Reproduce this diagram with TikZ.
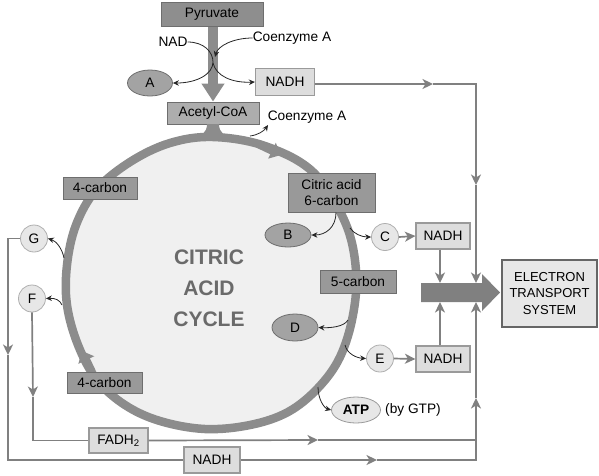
\documentclass[tikz,border=0pt]{standalone}
\usepackage{fontspec}
\setmainfont{Liberation Sans}
\usetikzlibrary{arrows.meta,shapes.geometric}
\definecolor{ringc}{HTML}{8C8C8C}
\definecolor{cycfill}{HTML}{F0F0F0}
\definecolor{darkf}{HTML}{999999}
\definecolor{darkd}{HTML}{6E6E6E}
\definecolor{lightf}{HTML}{DDDDDD}
\definecolor{lightd}{HTML}{9A9A9A}
\definecolor{flowc}{HTML}{808080}
\definecolor{pale}{HTML}{E7E7E7}
\definecolor{cyctext}{HTML}{6A6A6A}
\begin{document}
\begin{tikzpicture}[x=1pt,y=-1pt,
  font=\fontsize{13.7}{15}\selectfont,
  darkbox/.style={draw=darkd, fill=darkf, line width=1pt, inner sep=0pt, text=black},
  lightbox/.style={draw=lightd, fill=lightf, line width=1.2pt, inner sep=0pt, text=black},
  darkell/.style={ellipse, draw=darkd, fill=darkf!90!white, line width=0.8pt, inner sep=0pt},
  paleell/.style={ellipse, draw=lightd, fill=pale, line width=0.8pt, inner sep=0pt},
  palecirc/.style={circle, draw=lightd!80!white, fill=pale, line width=0.8pt, inner sep=0pt, minimum size=27pt},
  flow/.style={draw=flowc, line width=1.7pt},
  farr/.style={-{Stealth[length=10.5pt,width=10pt,inset=3pt]}},
  blk/.style={draw=black!85, line width=0.8pt, -{Stealth[length=6pt,width=5.5pt]}},
  plain/.style={inner sep=0pt, text=black}
]
\useasboundingbox (0,0) rectangle (599,475);

% ---- cycle ----
\draw[draw=ringc, fill=cycfill, line width=8.5pt] plot[smooth cycle, tension=0.6] coordinates {
 (213,137) (265,146) (313,172) (345,222) (356,270) (353,315) (340,357) (318,388)
 (288,412) (250,425) (205,429) (160,421) (125,405) (97,380) (78,345) (67,305)
 (67,265) (76,225) (96,190) (130,162) (170,143)};
\draw[draw=ringc, line width=8pt, -{Triangle[length=10pt,width=17pt]}] (258,144) -- (281,155);
\draw[draw=ringc, line width=8pt, -{Triangle[length=10pt,width=17pt]}] (92,372) -- (82,351);
\node[font=\bfseries\fontsize{21}{31}\selectfont, text=cyctext, align=center] (cyc) at (209,288) {CITRIC\\ACID\\CYCLE};

% ---- nodes ----
\node[darkbox, fill=darkf!93!black, minimum width=102pt, minimum height=24pt] (pyr) at (212,14.5) {Pyruvate};
\node[darkbox, fill=darkf!80!white, minimum width=92pt, minimum height=22pt] (acetyl) at (213,113) {Acetyl-CoA};
\node[lightbox, minimum width=59pt, minimum height=27pt] (nadh1) at (285,82) {NADH};
\node[darkell, minimum width=45pt, minimum height=26pt] (A) at (150,83) {A};
\node[plain] (nad) at (173,42) {NAD};
\node[plain] (coa1) at (292,38) {Coenzyme A};
\node[plain] (coa2) at (307,117) {Coenzyme A};

\node[darkbox, minimum width=74pt, minimum height=22pt] (c4a) at (100,188) {4-carbon};
\node[darkbox, minimum width=87pt, minimum height=39pt, align=center, font=\fontsize{13.7}{16}\selectfont] (citric) at (331.5,192.5) {Citric acid\\6-carbon};
\node[darkell, minimum width=46pt, minimum height=24pt] (B) at (288,235) {B};
\node[palecirc] (C) at (385,237) {C};
\node[lightbox, minimum width=54pt, minimum height=26pt] (nadh2) at (443,236) {NADH};
\node[darkbox, minimum width=76pt, minimum height=23pt] (c5) at (358,281.5) {5-carbon};
\node[darkell, minimum width=46pt, minimum height=27pt] (D) at (295,327.5) {D};
\node[palecirc] (E) at (380,358.5) {E};
\node[lightbox, minimum width=54pt, minimum height=26pt] (nadh3) at (443,359) {NADH};
\node[paleell, minimum width=49pt, minimum height=26pt, font=\bfseries\fontsize{13.7}{15}\selectfont] (atp) at (356,410) {ATP};
\node[plain] (bygtp) at (413,410) {(by GTP)};

\node[draw=black!60, fill=pale, line width=2pt, minimum width=95pt, minimum height=67pt, inner sep=0pt, align=center, font=\fontsize{13}{16.5}\selectfont] (ets) at (549.5,293.5) {ELECTRON\\TRANSPORT\\SYSTEM};

\node[palecirc] (G) at (34,238.5) {G};
\node[palecirc] (F) at (32,298.5) {F};
\node[darkbox, minimum width=75pt, minimum height=21pt] (c4b) at (104.5,382.5) {4-carbon};
\node[lightbox, minimum width=59pt, minimum height=25pt] (fadh) at (118.5,440.5) {FADH\textsubscript{2}};
\node[lightbox, minimum width=56pt, minimum height=26pt] (nadh4) at (212,460) {NADH};

% ---- big arrow ----
\fill[flowc] (421,283) -- (482,283) -- (482,274) -- (500,292.5) -- (482,311) -- (482,302) -- (421,302) -- cycle;
\coordinate (bigT1) at (440,283);
\coordinate (bigT2) at (476,283);
\coordinate (bigB1) at (440,302);
\coordinate (bigB2) at (476,302);

% ---- top stem ----
\draw[draw=ringc, line width=10pt, -{Triangle[length=18pt,width=22pt]}] (pyr.south -| acetyl.north) -- (acetyl.north);
\fill[ringc] (207,124) .. controls (207,133) and (201,136) .. (193,139) -- (233,139) .. controls (225,136) and (219,133) .. (219,124) -- cycle;

% ---- black curved arrows ----
\coordinate (split) at (213,63);
\coordinate (join) at (215,57);
\draw[blk] (nad.east) .. controls (204,42) and (213,52) .. (213,62) .. controls (213,74) and (197,83) .. (A.east);
\draw[blk] (coa1.west) .. controls (233,38) and (218,46) .. (join);
\draw[blk] (split) .. controls (216,76) and (232,83) .. (nadh1.west);

\coordinate (r1) at (250,136);
\draw[blk] (r1) .. controls (258,135) and (264,131) .. (268,125);
\draw[blk] ([xshift=4.5pt]citric.south) .. controls (336,227) and (326,235) .. (B.east);
\coordinate (rC) at (350,228);
\draw[blk] (rC) .. controls (354,234) and (362,237) .. (C.west);
\coordinate (rD) at (348,320);
\draw[blk] (rD) .. controls (344,327) and (330,328) .. (D.east);
\coordinate (rE) at (345,345);
\draw[blk] (rE) .. controls (347,354) and (357,358) .. (E.west);
\coordinate (rA) at (318,387);
\draw[blk] (rA) .. controls (318,399) and (324,408) .. (atp.west);
\coordinate (rG) at (64,258);
\draw[blk] (rG) .. controls (62,248) and (56,241) .. (G.east);
\coordinate (rF) at (62,305);
\draw[blk] (rF) .. controls (60,300) and (55,298) .. (F.east);

% ---- gray flows ----
\draw[flow, farr] (C.east) -- (nadh2.west);
\draw[flow, farr] (E.east) -- (nadh3.west);
\draw[flow, farr] (nadh2.south -| bigT1) -- (bigT1);
\draw[flow, farr] (nadh3.north -| bigB1) -- (bigB1);

\coordinate (topA) at (433,84);
\coordinate (rDown) at (476,185);
\draw[flow, farr] (nadh1.east |- topA) -- (topA);
\draw[flow, farr] (topA) -| (rDown);
\draw[flow, farr] (rDown) -- (bigT2);

\coordinate (gL) at (8,355);
\coordinate (fL) at (33,397);
\draw[flow, farr] (G.west) -| (gL);
\draw[flow] (gL) |- (nadh4.west);
\draw[flow, farr] (F.south) -- (fL);
\draw[flow] (fL) |- (fadh.west);

\coordinate (fadhA) at (318,440);
\coordinate (nadhA) at (377,460);
\coordinate (rUp) at (476,398);
\draw[flow, farr] (fadh.east) -- (fadhA);
\draw[flow] (fadhA) -- (fadhA -| rUp);
\draw[flow, farr] (nadh4.east) -- (nadhA);
\draw[flow, farr] (nadhA) -| (rUp);
\draw[flow, farr] (rUp) -- (bigB2);
\end{tikzpicture}
\end{document}
